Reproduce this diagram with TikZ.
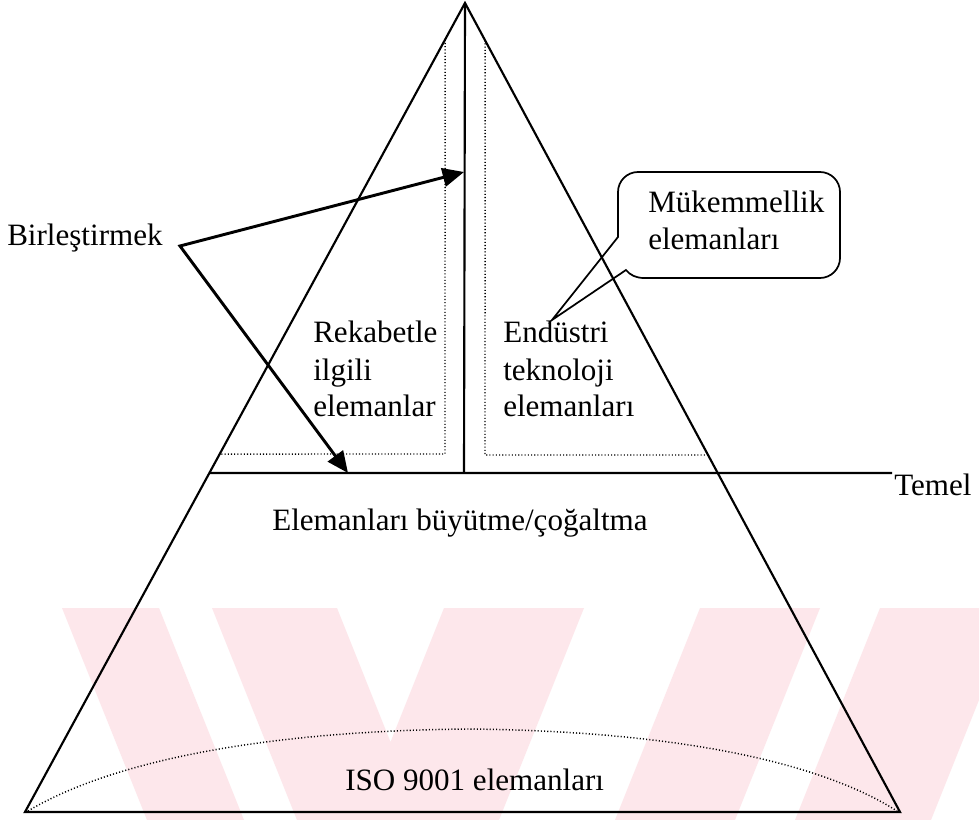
\documentclass[tikz,border=0pt]{standalone}
\usepackage{fontspec}
\setmainfont{Liberation Serif}
\usetikzlibrary{arrows.meta}
\definecolor{wmpink}{RGB}{253,231,235}
\begin{document}
\begin{tikzpicture}[x=0.75pt,y=-0.75pt,
  side/.style={line width=1.6pt, line join=miter},
  dots/.style={line width=1.1pt, dash pattern=on 0.8pt off 1.6pt},
  conn/.style={line width=2.2pt, line join=miter, {Triangle[length=16pt,width=14pt]}-{Triangle[length=16pt,width=14pt]}},
  callout/.style={line width=1.3pt},
  wm/.style={fill=wmpink, draw=none},
  lbl/.style={font=\fontsize{23.3}{28}\selectfont, inner sep=0pt, anchor=base west}]
\useasboundingbox (0,0) rectangle (979,820);
\fill[white] (0,0) rectangle (979,820);
% faint watermark
\fill[wm] (62,608) -- (159,608) -- (244,820) -- (147,820) -- cycle;
\fill[wm] (212,608) -- (337,608) -- (390.5,742) -- (444,608) -- (584,608) -- (499,820) -- (297,820) -- cycle;
\fill[wm] (700,608) -- (820,608) -- (735,820) -- (615,820) -- cycle;
\fill[wm] (880,608) -- (979,608) -- (979,700) -- (931,820) -- (795,820) -- cycle;
% main triangle
\coordinate (A) at (465,3);
\coordinate (BL) at (25,812);
\coordinate (BR) at (900,812);
\draw[side] (A) -- (BL) -- (BR) -- cycle;
% base line (Temel)
\coordinate (h1) at (0,473);
\coordinate (h2) at (979,473);
\coordinate (TL) at (intersection of A--BL and h1--h2);
\coordinate (TE) at (892,473);
\draw[side] (TL) -- (TE);
\node[lbl] (temel) at (894,495) {Temel};
% central vertical
\coordinate (VB) at (464,473);
\draw[side] (A) -- (VB);
% dotted boxes
\coordinate (dl1) at (445,0);
\coordinate (dl2) at (445,454);
\coordinate (dlh) at (0,454);
\coordinate (dlt) at (intersection of A--BL and dl1--dl2);
\coordinate (dlb) at (intersection of A--BL and dlh--dl2);
\draw[dots] (dlt) -- (dl2) -- (dlb);
\coordinate (dr1) at (485,0);
\coordinate (dr2) at (485,455);
\coordinate (drh) at (979,455);
\coordinate (drt) at (intersection of A--BR and dr1--dr2);
\coordinate (drb) at (intersection of A--BR and dr2--drh);
\draw[dots] (drt) -- (dr2) -- (drb);
% texts inside
\node[lbl] (rek1) at (313,343) {Rekabetle};
\node[lbl] (rek2) at (313,380) {ilgili};
\node[lbl] (rek3) at (313,416) {elemanlar};
\node[lbl] (end1) at (503,343) {Endüstri};
\node[lbl] (end2) at (503,380) {teknoloji};
\node[lbl] (end3) at (503,416) {elemanları};
\node[lbl] (buy) at (272,530) {Elemanları büyütme/çoğaltma};
\node[lbl] (iso) at (345,790) {ISO 9001 elemanları};
% dotted arc
\coordinate (a0) at (28,811);
\coordinate (a1) at (897,811);
\draw[dots] (a0)
  .. controls (110,762) and (260,731) .. (468,729)
  .. controls (676,731) and (820,762) .. (a1);
% Birlestirmek with arrows
\node[lbl] (bir) at (7,246) {Birleştirmek};
\coordinate (S) at (180,246);
\coordinate (P1) at (464,172);
\coordinate (P2) at (348,473);
\draw[conn] (P1) -- (S) -- (P2);
% callout
\coordinate (tip) at (552,320);
\draw[callout] (tip) -- (618,237) -- (618,192)
  .. controls (618,181) and (627,172) .. (638,172) -- (820,172)
  .. controls (831,172) and (840,181) .. (840,192) -- (840,258)
  .. controls (840,269) and (831,278) .. (820,278) -- (644,278)
  .. controls (636,278) and (630,275) .. (626,270) -- cycle;
\node[lbl] (muk1) at (648,213) {Mükemmellik};
\node[lbl] (muk2) at (648,250) {elemanları};
\end{tikzpicture}
\end{document}
